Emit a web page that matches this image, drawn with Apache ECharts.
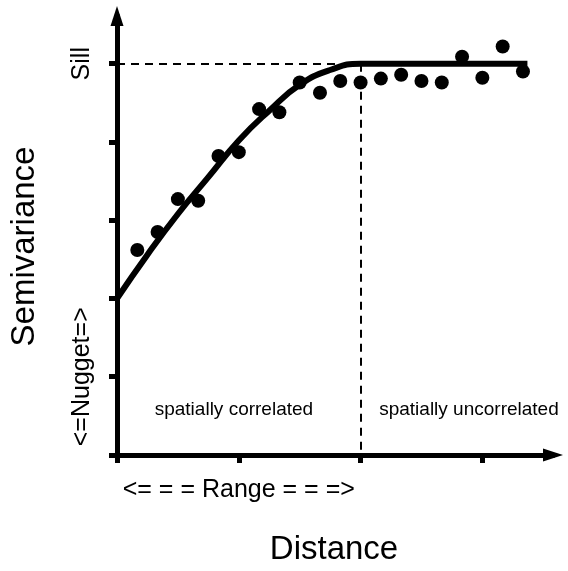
<!DOCTYPE html>
<html>
<head>
<meta charset="utf-8">
<script src="https://cdn.jsdelivr.net/npm/echarts@6/dist/echarts.min.js"></script>
<style>html,body{margin:0;padding:0;background:#fff}#c{width:568px;height:571px}</style>
</head>
<body>
<div id="c"></div>
<script>
// Empirical semivariance points (distance, semivariance)
const pointDistance = [1/6,2/6,3/6,4/6,5/6,1,7/6,8/6,9/6,10/6,11/6,2,13/6,14/6,15/6,16/6,17/6,18/6,19/6,20/6];
const pointSemivar  = [2.62,2.85,3.27,3.25,3.82,3.87,4.42,4.38,4.76,4.63,4.78,4.76,4.81,4.86,4.78,4.76,5.09,4.82,5.22,4.90];
// Model curve
const modelDistance = [0,0.25,0.5,0.75,1,1.25,1.5,1.75,2,3.37];
const modelSemivar  = [2,2.56,3.08,3.55,4.02,4.40,4.73,4.92,5,5];
// Axis ticks and labels
const xTicks = [0,1,2,3];
const yTicks = [0,1,2,3,4,5];
const nugget = 2, sill = 5, range = 2;
const xLabels = {1:'<= = = Range = = =>'};
const yLabels = {1:'<=Nugget=>', 5:'Sill'};

const font = 'Liberation Sans, Arial, Helvetica, sans-serif';
const chart = echarts.init(document.getElementById('c'));
chart.setOption({
  animation:false,
  backgroundColor:'#fff',
  grid:{left:116,right:15,top:16,bottom:112,containLabel:false},
  xAxis:{
    type:'value',min:0,max:3.58,interval:1,
    name:'Distance',nameLocation:'middle',nameGap:78,
    nameTextStyle:{fontFamily:font,fontSize:33,color:'#000',padding:[0,2,0,0]},
    splitLine:{show:false},
    axisLine:{show:true,onZero:false,lineStyle:{color:'#000',width:5},symbol:['none','triangle'],symbolSize:[13,20]},
    axisTick:{show:true,inside:false,length:8,lineStyle:{color:'#000',width:5},customValues:xTicks},
    axisLabel:{show:true,margin:23,fontFamily:font,fontSize:25,color:'#000',
      customValues:[1],formatter:v=>xLabels[v]||''}
  },
  yAxis:{
    type:'value',min:0,max:5.61,interval:1,
    name:'Semivariance',nameLocation:'middle',nameGap:76,nameRotate:90,
    nameTextStyle:{fontFamily:font,fontSize:33,color:'#000',padding:[0,22,0,0]},
    splitLine:{show:false},
    axisLine:{show:true,onZero:false,lineStyle:{color:'#000',width:5},symbol:['none','triangle'],symbolSize:[13,20]},
    axisTick:{show:true,inside:false,length:8,lineStyle:{color:'#000',width:5},customValues:yTicks},
    axisLabel:{show:true,rotate:90,margin:22,fontFamily:font,fontSize:25,color:'#000',
      customValues:[1,5],formatter:v=>yLabels[v]||''}
  },
  series:[
    {
      type:'line',
      data:modelDistance.map((d,i)=>[d,modelSemivar[i]]),
      smooth:true,
      showSymbol:false,symbol:'none',
      lineStyle:{color:'#000',width:6},
      z:3,
      markLine:{
        silent:true,symbol:['none','none'],
        lineStyle:{color:'#000',width:2,type:[8,6]},
        label:{show:false},
        data:[
          [{coord:[0,sill]},{coord:[range,sill]}],
          [{coord:[range,sill]},{coord:[range,0]}]
        ]
      },
      markPoint:{
        silent:true,symbol:'circle',symbolSize:0,
        label:{show:true,position:'inside',color:'#000',fontFamily:font,fontSize:19},
        data:[
          {coord:[0.96,0.58],value:'spatially correlated',label:{formatter:'spatially correlated'}},
          {coord:[2.89,0.58],value:'spatially uncorrelated',label:{formatter:'spatially uncorrelated'}}
        ]
      }
    },
    {
      type:'scatter',
      data:pointDistance.map((d,i)=>[d,pointSemivar[i]]),
      symbol:'circle',symbolSize:14,
      itemStyle:{color:'#000',opacity:1},
      z:2
    }
  ]
});
</script>
</body>
</html>
